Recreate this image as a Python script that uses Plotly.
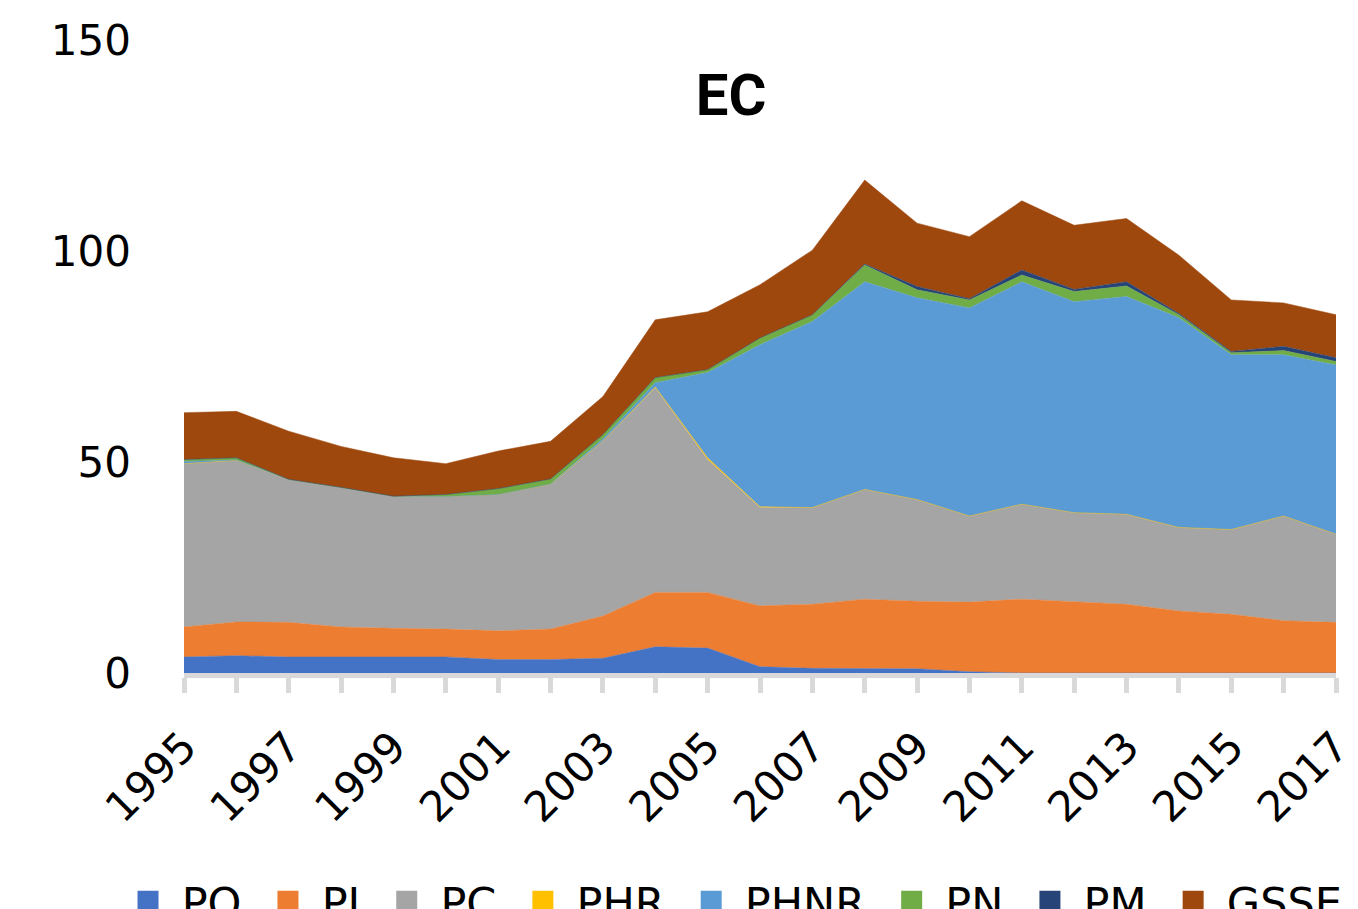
import plotly.graph_objects as go

years = list(range(1995, 2018))

# values (stacked areas, bottom to top)
po = [3.8, 4.1, 3.8, 3.8, 3.8, 3.8, 3.2, 3.2, 3.5, 6.2, 5.9, 1.5, 1.1, 1.1, 1.0, 0.3,
      0.0, 0.0, 0.0, 0.0, 0.0, 0.0, 0.0]
pi = [7.1, 8.0, 8.2, 7.1, 6.8, 6.6, 6.8, 7.2, 10.0, 12.9, 13.2, 14.4, 15.2, 16.4, 16.0, 16.5,
      17.5, 16.9, 16.3, 14.7, 13.9, 12.4, 12.0]
pc = [38.7, 38.3, 33.9, 33.1, 31.3, 31.4, 32.3, 34.3, 41.5, 48.5, 31.5, 23.3, 22.9, 26.0, 24.1, 20.4,
      22.5, 21.1, 21.3, 19.8, 20.1, 24.8, 20.9]
phr = [0.0, 0.0, 0.0, 0.0, 0.0, 0.0, 0.0, 0.0, 0.0, 0.2, 0.4, 0.2, 0.0, 0.0, 0.0, 0.0,
       0.0, 0.0, 0.0, 0.0, 0.0, 0.0, 0.0]
phnr = [0.5, 0.1, 0.0, 0.0, 0.0, 0.0, 0.0, 0.1, 0.5, 1.0, 20.2, 38.4, 44.1, 49.2, 47.8, 49.3,
        52.7, 50.0, 51.6, 49.7, 41.4, 38.2, 40.1]
pn = [0.5, 0.5, 0.0, 0.0, 0.0, 0.5, 1.4, 1.2, 1.0, 1.2, 0.7, 1.6, 1.6, 4.0, 1.9, 1.9,
      1.6, 2.4, 2.5, 0.7, 0.5, 1.0, 0.8]
pm = [0.0, 0.0, 0.0, 0.0, 0.0, 0.0, 0.0, 0.0, 0.0, 0.0, 0.0, 0.0, 0.0, 0.2, 0.8, 0.3,
      1.2, 0.5, 1.0, 0.3, 0.3, 1.0, 0.9]
gsse = [11.1, 11.0, 11.4, 9.7, 9.1, 7.3, 8.9, 8.9, 9.0, 13.7, 13.7, 12.6, 15.3, 19.9, 15.0, 14.7,
        16.4, 15.2, 15.0, 13.8, 12.2, 10.3, 10.2]

names = ["PO", "PI", "PC", "PHR", "PHNR", "PN", "PM", "GSSE"]
series = [po, pi, pc, phr, phnr, pn, pm, gsse]
colors = ["#4472C4", "#ED7D31", "#A5A5A5", "#FFC000", "#5B9BD5", "#70AD47", "#264478", "#9E480E"]

font = "DejaVu Sans"
axis_grey = "#D9D9D9"

fig = go.Figure()
for name, vals, col in zip(names, series, colors):
    fig.add_trace(go.Scatter(
        x=years, y=vals, name=name, mode="lines", stackgroup="one",
        line=dict(width=0.5, color=col), fillcolor=col, showlegend=False,
    ))

# legend entries as square markers
for name, col in zip(names, colors):
    fig.add_trace(go.Scatter(
        x=[None], y=[None], name="\u00a0" + name + "\u2002", mode="markers",
        marker=dict(symbol="square", size=16, color=col, line=dict(width=5, color=col)),
    ))

fig.update_layout(
    width=1358, height=909,
    margin=dict(l=176, r=30, t=32, b=244, autoexpand=False),
    paper_bgcolor="white", plot_bgcolor="white",
    font=dict(family=font, size=42, color="#000000"),
    title=dict(text="<b>EC</b>", x=0.5325, xref="container", y=0.905, yanchor="middle",
               xanchor="center", font=dict(family="Roboto", size=58, color="#000000")),
    legend=dict(orientation="h", x=-0.0486, xanchor="left", y=-0.306, yanchor="top",
                font=dict(size=43), itemwidth=30, traceorder="normal"),
    showlegend=True,
)
fig.update_xaxes(
    range=[1995, 2017], tickmode="array", tickvals=years[::2], ticktext=[str(y) for y in years[::2]],
    tickangle=-45, showgrid=False, zeroline=False,
    showline=True, linecolor=axis_grey, linewidth=5,
    ticks="outside", ticklen=15, tickwidth=5, tickcolor=axis_grey,
    minor=dict(tickvals=years, ticks="outside", ticklen=15, tickwidth=5, tickcolor=axis_grey),
    ticklabelstandoff=12,
)
fig.update_yaxes(
    range=[0, 150], tickvals=[0, 50, 100, 150], showgrid=False, zeroline=False,
    showline=False, ticks="", ticklabelstandoff=52,
)

fig.write_html("out.html")
